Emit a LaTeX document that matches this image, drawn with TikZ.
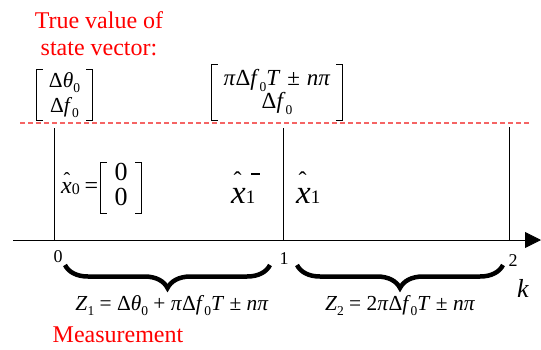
\documentclass[tikz,border=0pt]{standalone}
\usepackage{fontspec}
\setmainfont{Liberation Serif}
\usetikzlibrary{arrows.meta,decorations.pathreplacing}
\definecolor{dashred}{RGB}{245,100,100}
\newcommand{\fs}[1]{\fontsize{#1}{#1}\selectfont}
\newcommand{\lo}[1]{\raisebox{-0.25em}{\fontsize{13.5}{13.5}\selectfont #1}}
\newcommand{\hx}[3]{\leavevmode\rlap{\kern#3\raisebox{#1}{\fs{#2}ˆ}}\textit{x}}
\newcommand{\bracks}[1]{%
  \draw[brk] ([xshift=6pt]#1.north west) -- (#1.north west) -- (#1.south west) -- ([xshift=6pt]#1.south west);
  \draw[brk] ([xshift=-6pt]#1.north east) -- (#1.north east) -- (#1.south east) -- ([xshift=-6pt]#1.south east);}
\tikzset{
  lbl/.style={font=\fs{24}, text=red, anchor=base, inner sep=0pt},
  vec/.style={inner sep=0pt},
  brk/.style={line width=0.8pt, black},
  dashline/.style={draw=dashred, line width=1.2pt, dash pattern=on 5pt off 3pt},
  vline/.style={draw=black, line width=0.8pt},
  axis/.style={draw=black, line width=0.8pt, -{Triangle[length=16pt,width=16pt]}},
  tick/.style={font=\fs{18}, inner sep=0pt},
  brc/.style={decorate, decoration={brace, mirror, amplitude=23pt}, line width=4.5pt},
  eq/.style={font=\fs{21.4}, anchor=base, inner sep=0pt},
}
\begin{document}
\begin{tikzpicture}[x=1pt, y=-1pt]
\useasboundingbox (0,0) rectangle (541,349);
% titles
\node[lbl] (t1) at (99,28) {True value of};
\node[lbl] (t2) at (99,55) {state vector:};
% vectors
\node[vec, font=\fontsize{21.4}{25}\selectfont, minimum width=55pt, minimum height=50pt] (v0) at (64.5,95) {\begin{tabular}{@{}c@{}}Δ\textit{θ}\lo{0}\\Δ\textit{f}\lo{0}\end{tabular}};
\bracks{v0}
\node[vec, font=\fontsize{23}{23}\selectfont, minimum width=130pt, minimum height=55pt] (v1) at (277,92.5) {\begin{tabular}{@{}c@{}}\textit{π}Δ\textit{f}\lo{0}\textit{T}\kern0.3em±\kern0.3em\textit{nπ}\\Δ\textit{f}\lo{0}\end{tabular}};
\bracks{v1}
% dashed line
\coordinate (dl) at (20,123);
\coordinate (dr) at (531,123);
\draw[dashline] (dl) -- (dr);
% axis and verticals
\coordinate (ax0) at (13,240);
\coordinate (ax1) at (541,240);
\coordinate (k0) at (54,240);
\coordinate (k1) at (283,240);
\coordinate (k2) at (509,240);
\coordinate (k0t) at (54,128);
\coordinate (k1t) at (283,128);
\coordinate (k2t) at (509,127);
\draw[vline] (k0) -- (k0t);
\draw[vline] (k1) -- (k1t);
\draw[vline] (k2) -- (k2t);
\draw[axis] (ax0) -- (ax1);
% tick labels
\node[tick] (l0) at (58,257) {0};
\node[tick] (l1) at (284,259) {1};
\node[tick] (l2) at (513,261) {2};
\node[font=\fs{26}\itshape, inner sep=0pt] (kk) at (523,288) {k};
% braces
\coordinate (b1l) at (65,265);
\coordinate (b1r) at (270,265);
\coordinate (b2l) at (297,265);
\coordinate (b2r) at (503,265);
\draw[brc] (b1l) -- (b1r);
\draw[brc] (b2l) -- (b2r);
\node[eq] (z1) at (172,310) {\textit{Z}\lo{1} = Δ\textit{θ}\lo{0} + \textit{π}Δ\textit{f}\lo{0}\textit{T} ± \textit{nπ}};
\node[eq] (z2) at (400,310) {\textit{Z}\lo{2} = 2\textit{π}Δ\textit{f}\lo{0}\textit{T} ± \textit{nπ}};
\node[lbl] (meas) at (118,342) {Measurement};
% state estimates
\node[font=\fs{24}, anchor=base west, inner sep=0pt] (x0) at (61,193) {\hx{7pt}{20}{2.5pt}\raisebox{-0.05em}{\fs{16}0}\kern0.2em=};
\node[vec, font=\fontsize{26}{25}\selectfont, minimum width=40pt, minimum height=50pt] (z0v) at (121,188) {\begin{tabular}{@{}c@{}}0\\0\end{tabular}};
\bracks{z0v}
\node[font=\fs{33}, anchor=base west, inner sep=0pt] (x1m) at (231,203) {\hx{15pt}{24}{2.5pt}{\fs{19}1}\kern-0.12em\raisebox{28pt}{\rule{9pt}{2.2pt}}};
\node[font=\fs{33}, anchor=base west, inner sep=0pt] (x1) at (296,203) {\hx{15pt}{24}{2.5pt}{\fs{19}1}};
\end{tikzpicture}
\end{document}
